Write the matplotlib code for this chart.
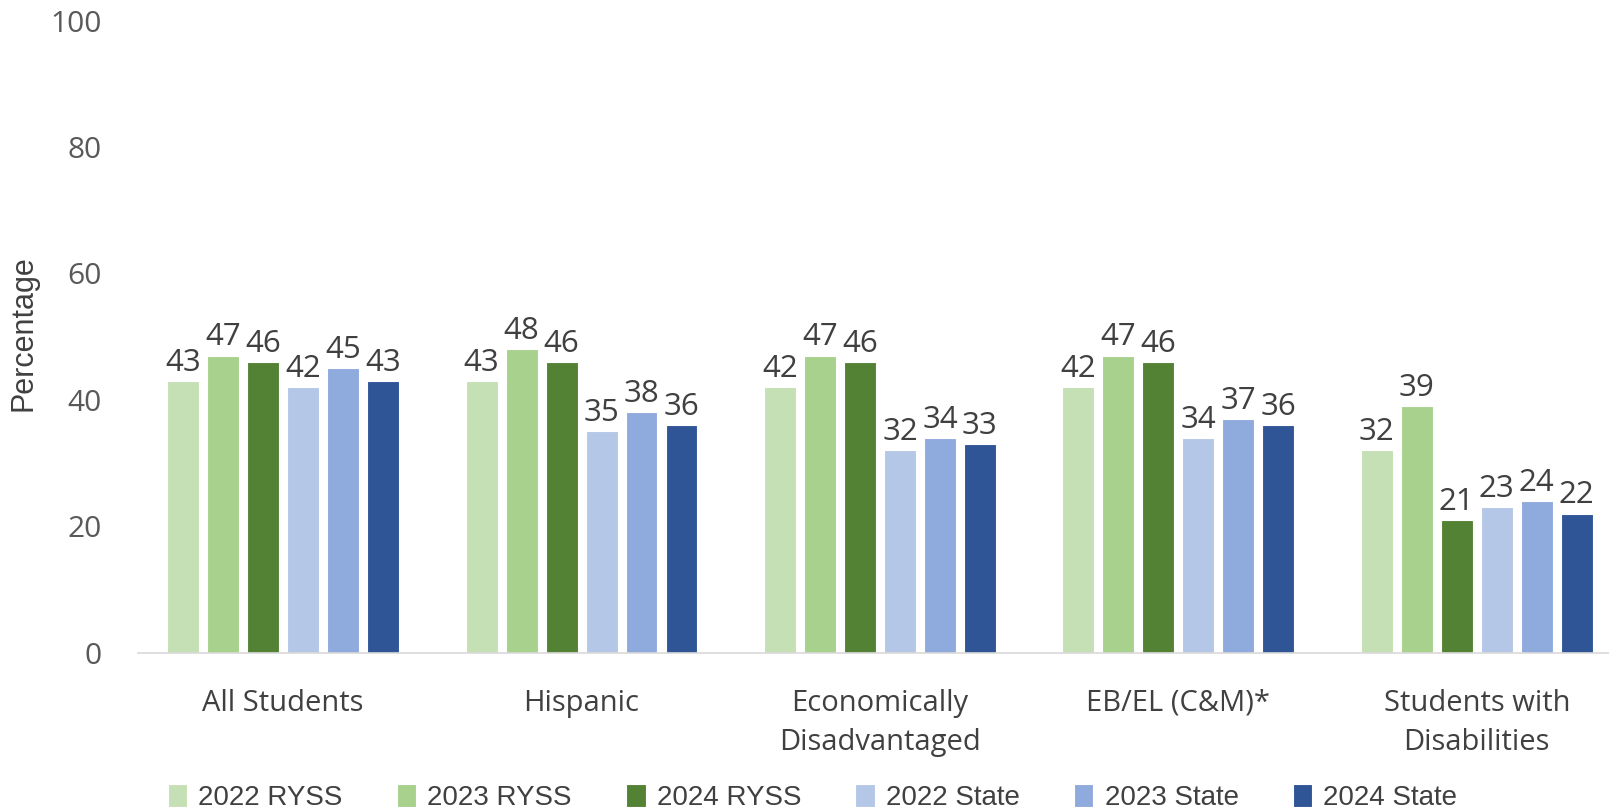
import matplotlib
matplotlib.use("Agg")
import matplotlib.pyplot as plt
import numpy as np

categories = ["All Students", "Hispanic", "Economically\nDisadvantaged", "EB/EL (C&M)*", "Students with\nDisabilities"]
series_names = ["2022 RYSS", "2023 RYSS", "2024 RYSS", "2022 State", "2023 State", "2024 State"]
ryss_2022 = [43, 43, 42, 42, 32]
ryss_2023 = [47, 48, 47, 47, 39]
ryss_2024 = [46, 46, 46, 46, 21]
state_2022 = [42, 35, 32, 34, 23]
state_2023 = [45, 38, 34, 37, 24]
state_2024 = [43, 36, 33, 36, 22]
colors = ["#C5E0B4", "#A9D18E", "#548235", "#B4C7E7", "#8FAADC", "#2F5597"]
yticks = [0, 20, 40, 60, 80, 100]

series = [ryss_2022, ryss_2023, ryss_2024, state_2022, state_2023, state_2024]

fig = plt.figure(figsize=(16.09, 8.11), dpi=100)
ax = fig.add_axes([137.5/1609, 0.1953, 1 - 137.5/1609, 0.9746 - 0.1953])

x = np.arange(len(categories))
pitch = 0.134
width = 0.107
for i, (vals, c, name) in enumerate(zip(series, colors, series_names)):
    pos = x + (i - 2.5) * pitch
    bars = ax.bar(pos, vals, width=width, color=c, label=name, edgecolor="white", linewidth=0.8, zorder=2)
    for b, v in zip(bars, vals):
        ax.text(b.get_x() + b.get_width()/2, v + 0.5, str(v), ha="center", va="bottom",
                fontsize=22.5, color="#404040", family="Open Sans")

ax.set_xlim(-0.488, 4.443)
ax.set_ylim(0, 100)
ax.set_yticks(yticks)
ax.set_yticklabels([str(t) for t in yticks], fontsize=21.5, color="#595959", family="Open Sans")
ax.tick_params(axis="y", length=0, pad=26)
ax.set_xticks(x)
ax.set_xticklabels(categories, fontsize=21, color="#404040", family="Open Sans", linespacing=1.45)
ax.tick_params(axis="x", length=0, pad=26)
for s in ["top", "right", "left"]:
    ax.spines[s].set_visible(False)
ax.spines["bottom"].set_color("#D9D9D9")
ax.spines["bottom"].set_linewidth(1.2)

fig.text(24/1609, 0.589, "Percentage", rotation=90, ha="center", va="center",
         fontsize=22, color="#404040", family="Liberation Sans")

leg = fig.legend(loc="center", bbox_to_anchor=(0.505, 0.017), ncol=6, frameon=False,
                 prop={"family": "Liberation Sans", "size": 20},
                 handlelength=0.7, handleheight=0.9, handletextpad=0.4, columnspacing=1.95,
                 labelcolor="#404040")

fig.savefig("out.png", dpi=100)
